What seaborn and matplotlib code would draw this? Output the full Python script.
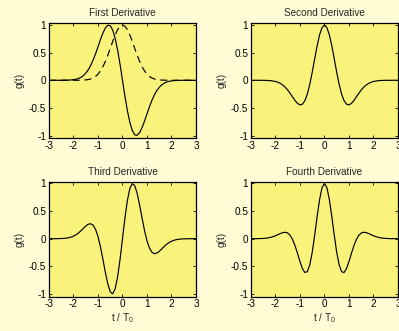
import matplotlib
matplotlib.use("Agg")
import matplotlib.pyplot as plt
import seaborn as sns
import pandas as pd

# time axis t / T0
t = [-3.0, -2.9, -2.8, -2.7, -2.6, -2.5, -2.4, -2.3, -2.2, -2.1,
     -2.0, -1.9, -1.8, -1.7, -1.6, -1.5, -1.4, -1.3, -1.2, -1.1,
     -1.0, -0.9, -0.8, -0.7, -0.6, -0.5, -0.4, -0.3, -0.2, -0.1,
     0.0,
     0.1, 0.2, 0.3, 0.4, 0.5, 0.6, 0.7, 0.8, 0.9, 1.0,
     1.1, 1.2, 1.3, 1.4, 1.5, 1.6, 1.7, 1.8, 1.9, 2.0,
     2.1, 2.2, 2.3, 2.4, 2.5, 2.6, 2.7, 2.8, 2.9, 3.0]

gauss = [0, 0, 0, 0, 0, 0, 0, 0, 0, 0,
         0, 0, 0.001, 0.002, 0.004, 0.007, 0.013, 0.024, 0.042, 0.070,
         0.111, 0.168, 0.245, 0.340, 0.453, 0.577, 0.703, 0.820, 0.916, 0.978,
         1.0,
         0.978, 0.916, 0.820, 0.703, 0.577, 0.453, 0.340, 0.245, 0.168, 0.111,
         0.070, 0.042, 0.024, 0.013, 0.007, 0.004, 0.002, 0.001, 0, 0,
         0, 0, 0, 0, 0, 0, 0, 0, 0, 0]

d1 = [0, 0, 0, 0, 0, 0, 0.001, 0.002, 0.003, 0.006,
      0.011, 0.019, 0.032, 0.053, 0.084, 0.128, 0.188, 0.267, 0.365, 0.480,
      0.607, 0.737, 0.855, 0.947, 0.996, 0.987, 0.909, 0.761, 0.549, 0.288,
      0.0,
      -0.288, -0.549, -0.761, -0.909, -0.987, -0.996, -0.947, -0.855, -0.737, -0.607,
      -0.480, -0.365, -0.267, -0.188, -0.128, -0.084, -0.053, -0.032, -0.019, -0.011,
      -0.006, -0.003, -0.002, -0.001, 0, 0, 0, 0, 0, 0]

d2 = [0, 0, 0, 0, -0.001, -0.001, -0.002, -0.004, -0.007, -0.013,
      -0.022, -0.036, -0.057, -0.086, -0.126, -0.177, -0.237, -0.303, -0.367, -0.419,
      -0.445, -0.433, -0.370, -0.250, -0.074, 0.145, 0.387, 0.623, 0.821, 0.953,
      1.0,
      0.953, 0.821, 0.623, 0.387, 0.145, -0.074, -0.250, -0.370, -0.433, -0.445,
      -0.419, -0.367, -0.303, -0.237, -0.177, -0.126, -0.086, -0.057, -0.036, -0.022,
      -0.013, -0.007, -0.004, -0.002, -0.001, -0.001, 0, 0, 0, 0]

d3 = [0, 0, 0, 0.001, 0.002, 0.003, 0.005, 0.010, 0.017, 0.029,
      0.046, 0.070, 0.102, 0.142, 0.186, 0.229, 0.261, 0.271, 0.245, 0.169,
      0.038, -0.147, -0.372, -0.608, -0.818, -0.960, -0.998, -0.909, -0.693, -0.375,
      0.0,
      0.375, 0.693, 0.909, 0.998, 0.960, 0.818, 0.608, 0.372, 0.147, -0.038,
      -0.169, -0.245, -0.271, -0.261, -0.229, -0.186, -0.142, -0.102, -0.070, -0.046,
      -0.029, -0.017, -0.010, -0.005, -0.003, -0.002, -0.001, 0, 0, 0]

d4 = [0, 0, 0.001, 0.001, 0.003, 0.005, 0.009, 0.015, 0.024, 0.037,
      0.053, 0.073, 0.094, 0.110, 0.116, 0.103, 0.061, -0.016, -0.128, -0.267,
      -0.414, -0.541, -0.612, -0.597, -0.475, -0.247, 0.061, 0.400, 0.708, 0.923,
      1.0,
      0.923, 0.708, 0.400, 0.061, -0.247, -0.475, -0.597, -0.612, -0.541, -0.414,
      -0.267, -0.128, -0.016, 0.061, 0.103, 0.116, 0.110, 0.094, 0.073, 0.053,
      0.037, 0.024, 0.015, 0.009, 0.005, 0.003, 0.001, 0.001, 0, 0]

titles = ["First Derivative", "Second Derivative", "Third Derivative", "Fourth Derivative"]
xticks = [-3, -2, -1, 0, 1, 2, 3]
yticks = [-1, -0.5, 0, 0.5, 1]
yticklabels = ["-1", "-0.5", "0", "0.5", "1"]

sns.set_theme(style="ticks")
plt.rcParams["font.family"] = ["Liberation Sans", "DejaVu Sans"]
plt.rcParams["mathtext.fontset"] = "custom"
plt.rcParams["mathtext.rm"] = "Liberation Sans"

FIG_BG = "#fffcd6"
AX_BG = "#f9f37c"
FS = 7.2

fig = plt.figure(figsize=(3.99, 3.31), dpi=100, facecolor=FIG_BG)
w, h = 0.3684, 0.348
positions = [(0.1228, 0.5822), (0.629, 0.5822), (0.1228, 0.1036), (0.629, 0.1036)]
curves = [d1, d2, d3, d4]

for i, (pos, y, title) in enumerate(zip(positions, curves, titles)):
    ax = fig.add_axes([pos[0], pos[1], w, h])
    ax.set_facecolor(AX_BG)
    df = pd.DataFrame({"t": t, "g": y})
    sns.lineplot(data=df, x="t", y="g", ax=ax, color="black", linewidth=0.85)
    if i == 0:
        dg = pd.DataFrame({"t": t, "g": gauss})
        sns.lineplot(data=dg, x="t", y="g", ax=ax, color="black",
                     linewidth=0.85, linestyle=(0, (6, 4)))
    ax.set_xlim(-3, 3)
    ax.set_ylim(-1.05, 1.035)
    ax.set_xticks(xticks)
    ax.set_xticklabels([str(v) for v in xticks])
    ax.set_yticks(yticks)
    ax.set_yticklabels(yticklabels)
    ax.tick_params(direction="in", top=True, right=True, length=2.5, width=0.6,
                   labelsize=FS, pad=2, colors="black")
    for s in ax.spines.values():
        s.set_linewidth(0.9)
        s.set_color("black")
    ax.set_title(title, fontsize=FS, pad=5)
    ax.set_ylabel("g(t)", fontsize=FS, labelpad=3)
    if i >= 2:
        ax.set_xlabel("t / $\\mathregular{T_0}$", fontsize=FS, labelpad=1)
    else:
        ax.set_xlabel("")

fig.savefig("out.png", dpi=100, facecolor=FIG_BG)
